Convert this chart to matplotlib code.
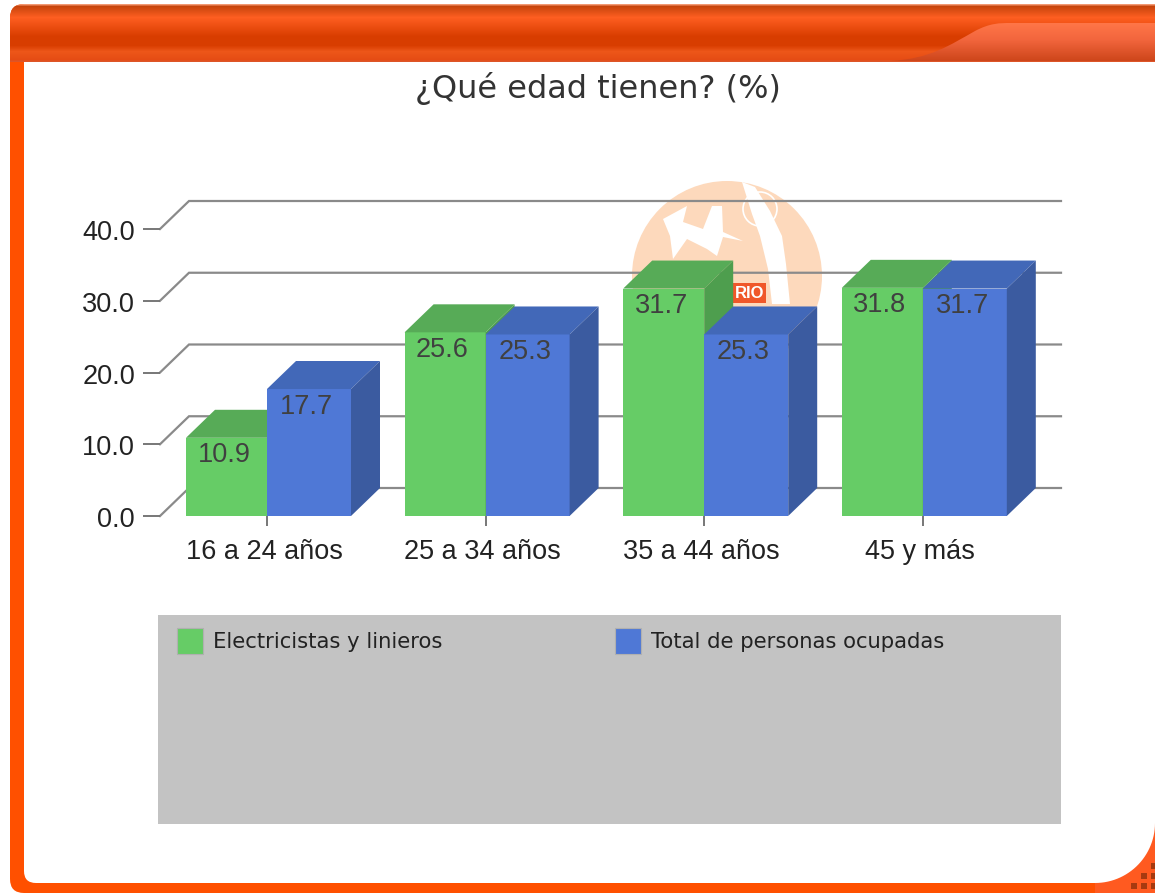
import matplotlib
matplotlib.use('Agg')
import matplotlib.pyplot as plt
import numpy as np
from matplotlib.patches import Polygon, Rectangle, FancyBboxPatch, Circle, PathPatch
from matplotlib.path import Path
from matplotlib.transforms import ScaledTranslation

W, H = 1155, 895

categories = ['16 a 24 años', '25 a 34 años', '35 a 44 años', '45 y más']
electricistas = [10.9, 25.6, 31.7, 31.8]
total_ocupadas = [17.7, 25.3, 25.3, 31.7]
series_names = ['Electricistas y linieros', 'Total de personas ocupadas']
y_ticks = [0, 10, 20, 30, 40]
title = '¿Qué edad tienen? (%)'

GREEN = ('#66CC66', '#57AB57', '#4E9E4E')
BLUE = ('#4F78D6', '#4268B8', '#3B5BA0')
ORANGE = '#FF5000'
PEACH = '#FDD9BC'
SANS = 'Liberation Sans'

fig = plt.figure(figsize=(W / 100, H / 100), dpi=100, facecolor='white')


def px_axes(left, top, right, bottom, **kw):
    # axes placed with pixel coordinates of the picture (y from the top)
    return fig.add_axes([left / W, 1 - bottom / H, (right - left) / W, (bottom - top) / H], **kw)


# ---- frame and watermark
bg = px_axes(0, 0, W, H)
bg.set_xlim(0, W)
bg.set_ylim(H, 0)
bg.axis('off')

outer = FancyBboxPatch((10, 5), W + 60, 889, boxstyle='round,pad=0,rounding_size=14',
                       fc=ORANGE, ec='none', zorder=1)
bg.add_patch(outer)
inner = FancyBboxPatch((24, 50), W + 40, 834, boxstyle='round,pad=0,rounding_size=12',
                       fc='white', ec='none', zorder=2)
bg.add_patch(inner)

# orange corner at the bottom right
t = np.linspace(0, np.pi / 2, 30)
cx, cy, r = 1095, 824, 60
corner = [(W, 894), (1095, 894), (1095, 884)]
corner += [(cx + r * np.sin(a), cy + r * np.cos(a)) for a in t]
corner += [(W, 824)]
bg.add_patch(Polygon(corner, fc='#FF5A20', ec='none', zorder=3))
for dx, dy in [(1134, 887), (1144, 887), (1154, 887), (1144, 877), (1154, 877), (1154, 867)]:
    bg.add_patch(Rectangle((dx - 3, dy - 3), 6, 6, fc='#A63A10', ec='none', zorder=4))

# header gradient
stops_y = [5, 7, 18, 37, 46, 52, 60, 63]
stops_c = [(0.95, 0.6, 0.45), (0.78, 0.27, 0.05), (1.0, 0.37, 0.13), (0.85, 0.24, 0.0),
           (0.85, 0.24, 0.0), (0.93, 0.34, 0.10), (0.90, 0.30, 0.08), (0.85, 0.35, 0.2)]
ys = np.arange(5, 63)
grad = np.stack([np.interp(ys, stops_y, [c[i] for c in stops_c]) for i in range(3)], axis=1)[:, None, :]
header = bg.imshow(grad, extent=(10, W, 63, 5), aspect='auto', zorder=5)
clip = FancyBboxPatch((10, 5), W + 60, 120, boxstyle='round,pad=0,rounding_size=14',
                      fc='none', ec='none', transform=bg.transData)
bg.add_patch(clip)
header.set_clip_path(clip)
bg.set_xlim(0, W)
bg.set_ylim(H, 0)

# lighter tab at the top right
tab_path = Path([(890, 62), (930, 60), (950, 46), (975, 32), (990, 24), (1000, 24), (1010, 24),
                 (W, 24), (W, 62), (890, 62)],
                [Path.MOVETO, Path.CURVE4, Path.CURVE4, Path.CURVE4, Path.CURVE4, Path.CURVE4,
                 Path.LINETO, Path.LINETO, Path.LINETO, Path.CLOSEPOLY])
tab = PathPatch(tab_path, fc='none', ec='none', zorder=6)
bg.add_patch(tab)
ys2 = np.arange(24, 63)
tab_grad = np.stack([np.interp(ys2, [24, 40, 62], v) for v in
                     [(1.0, 0.95, 0.80), (0.46, 0.40, 0.27), (0.28, 0.24, 0.10)]], axis=1)[:, None, :]
tab_img = bg.imshow(tab_grad, extent=(880, W, 63, 24), aspect='auto', zorder=6)
tab_img.set_clip_path(tab)
bg.set_xlim(0, W)
bg.set_ylim(H, 0)

# watermark behind the bars
bg.add_patch(Circle((727, 277), 95, fc=PEACH, ec='none', zorder=7))
bg.add_patch(Polygon([(742, 183), (752, 215), (760, 237), (768, 270), (772, 305),
                      (790, 305), (786, 265), (782, 237), (770, 212), (755, 188)],
                     fc='white', ec='none', zorder=8))
bg.add_patch(Circle((760, 210), 17, fc='none', ec='white', lw=1.2, zorder=8))
bg.add_patch(Polygon([(663, 220), (687, 207), (683, 223), (703, 230), (712, 207), (722, 207),
                      (723, 233), (743, 242), (723, 238), (717, 257), (707, 250), (687, 240),
                      (673, 260), (670, 237)],
                     fc='white', ec='none', zorder=8))
bg.add_patch(Rectangle((733, 284), 33, 20, fc='#F0572A', ec='none', zorder=9))
bg.text(749.5, 293.5, 'RIO', color='white', fontsize=12, fontweight='bold', family=SANS,
        ha='center', va='center', zorder=10)

bg.text(598, 88, title, fontsize=23, color='#333333', family='DejaVu Sans',
        ha='center', va='center', zorder=10)

# ---- chart
PX_PER_CAT = 218.6
PX_PER_UNIT = 7.175
ZERO_X, ZERO_Y = 267, 517
LEFT, RIGHT, TOP = 160, 1061, 190
DEPTH_X = 29 / PX_PER_CAT
DEPTH_Y = 28 / PX_PER_UNIT
GREEN_W = 81 / PX_PER_CAT
BLUE_W = 84 / PX_PER_CAT

ax = px_axes(LEFT, TOP, RIGHT, ZERO_Y)
ax.patch.set_alpha(0)
ax.set_xlim((LEFT - ZERO_X) / PX_PER_CAT, (RIGHT - ZERO_X) / PX_PER_CAT)
ax.set_ylim(0, (ZERO_Y - TOP) / PX_PER_UNIT)
for s in ax.spines.values():
    s.set_visible(False)

x = np.arange(len(categories))
x0 = ax.get_xlim()[0]
x1 = ax.get_xlim()[1]

for v in y_ticks:
    ax.plot([x0, x0 + DEPTH_X, x1], [v, v + DEPTH_Y, v + DEPTH_Y], color='#8A8A8A', lw=1.6,
            clip_on=False, zorder=1, solid_joinstyle='miter')


def bar_3d(left, value, width, colors):
    right = left + width
    ax.bar(left, value, width, align='edge', color=colors[0], zorder=3)
    ax.add_patch(Polygon([(left, value), (left + DEPTH_X, value + DEPTH_Y),
                          (right + DEPTH_X, value + DEPTH_Y), (right, value)],
                         fc=colors[1], ec='none', zorder=3, clip_on=False))
    ax.add_patch(Polygon([(right, 0), (right + DEPTH_X, DEPTH_Y),
                          (right + DEPTH_X, value + DEPTH_Y), (right, value)],
                         fc=colors[2], ec='none', zorder=3, clip_on=False))
    ax.text(left + width / 2 - 0.012, value - 2.3, f'{value:.1f}', color='#404040', fontsize=19.5,
            family=SANS, ha='center', va='center', zorder=4)


for i in x:
    bar_3d(i - GREEN_W, electricistas[i], GREEN_W, GREEN)
    bar_3d(i, total_ocupadas[i], BLUE_W, BLUE)

ax.set_xticks(x, categories)
ax.set_yticks(y_ticks, [f'{v:.1f}' for v in y_ticks])
ax.tick_params(axis='x', length=7, width=1.4, color='#777777', pad=9, labelsize=19.5, labelcolor='#222222')
ax.tick_params(axis='y', length=12, width=1.4, color='#777777', pad=6, labelsize=19.5, labelcolor='#222222')
for lab in ax.get_xticklabels() + ax.get_yticklabels():
    lab.set_family(SANS)
# category labels sit a little left of their tick
for lab in ax.get_xticklabels():
    lab.set_transform(lab.get_transform() + ScaledTranslation(-0.03, 0, fig.dpi_scale_trans))

# ---- legend box
leg = px_axes(158, 616, 1061, 825)
leg.set_xlim(158, 1061)
leg.set_ylim(825, 616)
leg.axis('off')
leg.add_patch(Rectangle((158, 616), 903, 209, fc='#C3C3C3', ec='none'))
for sx, name, col in zip([177, 615], series_names, [GREEN[0], BLUE[0]]):
    leg.add_patch(Rectangle((sx, 629), 26, 26, fc=col, ec='#B0B0B0', lw=0.8))
    leg.text(sx + 36, 642, name, fontsize=15.2, color='#222222', family='DejaVu Sans',
             va='center', ha='left')

fig.savefig('out.png', dpi=100)
